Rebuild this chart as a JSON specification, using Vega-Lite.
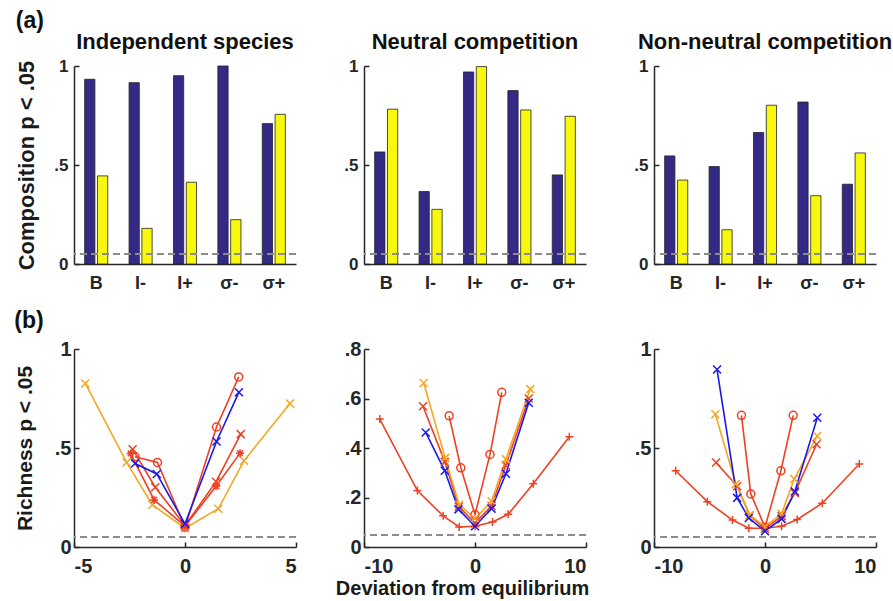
{
  "$schema": "https://vega.github.io/schema/vega-lite/v6.json",
  "autosize": {"type": "pad"},
  "padding": {"left": 14, "top": 10, "right": 2, "bottom": 2},
  "background": "white",
  "config": {
    "font": "Liberation Sans",
    "view": {"stroke": null},
    "axis": {"grid": false, "domainColor": "#262626", "domainWidth": 1.5, "tickColor": "#262626", "tickWidth": 1.5, "labelColor": "#262626", "labelFont": "Liberation Sans", "labelFontWeight": "bold", "titleFontWeight": "bold", "titleColor": "#1a1a1a", "titleFont": "Liberation Sans"},
    "title": {"font": "Liberation Sans", "fontWeight": "bold", "color": "#111111"}
  },
  "datasets": {
    "bars": [
      {"p": "a1", "c": "B", "k": "n", "v": 0.933}, {"p": "a1", "c": "B", "k": "y", "v": 0.445},
      {"p": "a1", "c": "I-", "k": "n", "v": 0.916}, {"p": "a1", "c": "I-", "k": "y", "v": 0.18},
      {"p": "a1", "c": "I+", "k": "n", "v": 0.951}, {"p": "a1", "c": "I+", "k": "y", "v": 0.413},
      {"p": "a1", "c": "σ-", "k": "n", "v": 1.0}, {"p": "a1", "c": "σ-", "k": "y", "v": 0.224},
      {"p": "a1", "c": "σ+", "k": "n", "v": 0.709}, {"p": "a1", "c": "σ+", "k": "y", "v": 0.756},
      {"p": "a2", "c": "B", "k": "n", "v": 0.566}, {"p": "a2", "c": "B", "k": "y", "v": 0.782},
      {"p": "a2", "c": "I-", "k": "n", "v": 0.366}, {"p": "a2", "c": "I-", "k": "y", "v": 0.276},
      {"p": "a2", "c": "I+", "k": "n", "v": 0.97}, {"p": "a2", "c": "I+", "k": "y", "v": 0.997},
      {"p": "a2", "c": "σ-", "k": "n", "v": 0.876}, {"p": "a2", "c": "σ-", "k": "y", "v": 0.778},
      {"p": "a2", "c": "σ+", "k": "n", "v": 0.45}, {"p": "a2", "c": "σ+", "k": "y", "v": 0.746},
      {"p": "a3", "c": "B", "k": "n", "v": 0.546}, {"p": "a3", "c": "B", "k": "y", "v": 0.424},
      {"p": "a3", "c": "I-", "k": "n", "v": 0.492}, {"p": "a3", "c": "I-", "k": "y", "v": 0.173},
      {"p": "a3", "c": "I+", "k": "n", "v": 0.664}, {"p": "a3", "c": "I+", "k": "y", "v": 0.802},
      {"p": "a3", "c": "σ-", "k": "n", "v": 0.818}, {"p": "a3", "c": "σ-", "k": "y", "v": 0.345},
      {"p": "a3", "c": "σ+", "k": "n", "v": 0.403}, {"p": "a3", "c": "σ+", "k": "y", "v": 0.561}
    ],
    "lines": [
      {"p": "b1", "s": "orange", "x": -4.49, "y": 0.826}, {"p": "b1", "s": "orange", "x": -2.63, "y": 0.427}, {"p": "b1", "s": "orange", "x": -1.47, "y": 0.213}, {"p": "b1", "s": "orange", "x": 0, "y": 0.095}, {"p": "b1", "s": "orange", "x": 1.5, "y": 0.193}, {"p": "b1", "s": "orange", "x": 2.66, "y": 0.436}, {"p": "b1", "s": "orange", "x": 4.73, "y": 0.725},
      {"p": "b1", "s": "red1", "x": -2.45, "y": 0.472}, {"p": "b1", "s": "red1", "x": -1.39, "y": 0.238}, {"p": "b1", "s": "red1", "x": 0, "y": 0.105}, {"p": "b1", "s": "red1", "x": 1.4, "y": 0.307}, {"p": "b1", "s": "red1", "x": 2.48, "y": 0.474},
      {"p": "b1", "s": "red2", "x": -2.36, "y": 0.494}, {"p": "b1", "s": "red2", "x": -1.34, "y": 0.302}, {"p": "b1", "s": "red2", "x": 0, "y": 0.108}, {"p": "b1", "s": "red2", "x": 1.4, "y": 0.33}, {"p": "b1", "s": "red2", "x": 2.51, "y": 0.57},
      {"p": "b1", "s": "redo", "x": -2.25, "y": 0.456}, {"p": "b1", "s": "redo", "x": -1.24, "y": 0.427}, {"p": "b1", "s": "redo", "x": 0, "y": 0.1}, {"p": "b1", "s": "redo", "x": 1.42, "y": 0.606}, {"p": "b1", "s": "redo", "x": 2.42, "y": 0.859},
      {"p": "b1", "s": "blue", "x": -2.25, "y": 0.422}, {"p": "b1", "s": "blue", "x": -1.27, "y": 0.369}, {"p": "b1", "s": "blue", "x": 0, "y": 0.117}, {"p": "b1", "s": "blue", "x": 1.42, "y": 0.533}, {"p": "b1", "s": "blue", "x": 2.43, "y": 0.782},

      {"p": "b2", "s": "red1", "x": -8.58, "y": 0.517}, {"p": "b2", "s": "red1", "x": -5.19, "y": 0.228}, {"p": "b2", "s": "red1", "x": -2.87, "y": 0.126}, {"p": "b2", "s": "red1", "x": -1.43, "y": 0.081}, {"p": "b2", "s": "red1", "x": 0, "y": 0.084}, {"p": "b2", "s": "red1", "x": 1.58, "y": 0.101}, {"p": "b2", "s": "red1", "x": 2.99, "y": 0.132}, {"p": "b2", "s": "red1", "x": 5.25, "y": 0.256}, {"p": "b2", "s": "red1", "x": 8.5, "y": 0.445},
      {"p": "b2", "s": "red2", "x": -4.68, "y": 0.569}, {"p": "b2", "s": "red2", "x": -2.72, "y": 0.344}, {"p": "b2", "s": "red2", "x": -1.46, "y": 0.163}, {"p": "b2", "s": "red2", "x": 0, "y": 0.097}, {"p": "b2", "s": "red2", "x": 1.49, "y": 0.166}, {"p": "b2", "s": "red2", "x": 2.78, "y": 0.33}, {"p": "b2", "s": "red2", "x": 4.84, "y": 0.6},
      {"p": "b2", "s": "redo", "x": -2.33, "y": 0.53}, {"p": "b2", "s": "redo", "x": -1.28, "y": 0.32}, {"p": "b2", "s": "redo", "x": 0, "y": 0.131}, {"p": "b2", "s": "redo", "x": 1.35, "y": 0.374}, {"p": "b2", "s": "redo", "x": 2.41, "y": 0.625},
      {"p": "b2", "s": "orange", "x": -4.62, "y": 0.663}, {"p": "b2", "s": "orange", "x": -2.69, "y": 0.36}, {"p": "b2", "s": "orange", "x": -1.43, "y": 0.171}, {"p": "b2", "s": "orange", "x": 0, "y": 0.115}, {"p": "b2", "s": "orange", "x": 1.49, "y": 0.185}, {"p": "b2", "s": "orange", "x": 2.78, "y": 0.355}, {"p": "b2", "s": "orange", "x": 4.98, "y": 0.638},
      {"p": "b2", "s": "blue", "x": -4.44, "y": 0.463}, {"p": "b2", "s": "blue", "x": -2.72, "y": 0.308}, {"p": "b2", "s": "blue", "x": -1.49, "y": 0.152}, {"p": "b2", "s": "blue", "x": 0, "y": 0.084}, {"p": "b2", "s": "blue", "x": 1.49, "y": 0.155}, {"p": "b2", "s": "blue", "x": 2.78, "y": 0.296}, {"p": "b2", "s": "blue", "x": 4.84, "y": 0.583},

      {"p": "b3", "s": "red1", "x": -8.05, "y": 0.385}, {"p": "b3", "s": "red1", "x": -5.19, "y": 0.229}, {"p": "b3", "s": "red1", "x": -2.93, "y": 0.136}, {"p": "b3", "s": "red1", "x": -1.46, "y": 0.095}, {"p": "b3", "s": "red1", "x": 0, "y": 0.095}, {"p": "b3", "s": "red1", "x": 1.49, "y": 0.105}, {"p": "b3", "s": "red1", "x": 2.9, "y": 0.139}, {"p": "b3", "s": "red1", "x": 5.16, "y": 0.221}, {"p": "b3", "s": "red1", "x": 8.5, "y": 0.419},
      {"p": "b3", "s": "red2", "x": -4.41, "y": 0.427}, {"p": "b3", "s": "red2", "x": -2.51, "y": 0.307}, {"p": "b3", "s": "red2", "x": -1.37, "y": 0.159}, {"p": "b3", "s": "red2", "x": 0, "y": 0.092}, {"p": "b3", "s": "red2", "x": 1.49, "y": 0.156}, {"p": "b3", "s": "red2", "x": 2.69, "y": 0.273}, {"p": "b3", "s": "red2", "x": 4.65, "y": 0.519},
      {"p": "b3", "s": "redo", "x": -2.12, "y": 0.665}, {"p": "b3", "s": "redo", "x": -1.28, "y": 0.268}, {"p": "b3", "s": "redo", "x": 0, "y": 0.1}, {"p": "b3", "s": "redo", "x": 1.43, "y": 0.385}, {"p": "b3", "s": "redo", "x": 2.54, "y": 0.665},
      {"p": "b3", "s": "orange", "x": -4.47, "y": 0.67}, {"p": "b3", "s": "orange", "x": -2.63, "y": 0.318}, {"p": "b3", "s": "orange", "x": -1.37, "y": 0.162}, {"p": "b3", "s": "orange", "x": 0, "y": 0.102}, {"p": "b3", "s": "orange", "x": 1.49, "y": 0.168}, {"p": "b3", "s": "orange", "x": 2.63, "y": 0.343}, {"p": "b3", "s": "orange", "x": 4.71, "y": 0.561},
      {"p": "b3", "s": "blue", "x": -4.32, "y": 0.896}, {"p": "b3", "s": "blue", "x": -2.51, "y": 0.248}, {"p": "b3", "s": "blue", "x": -1.46, "y": 0.146}, {"p": "b3", "s": "blue", "x": 0, "y": 0.08}, {"p": "b3", "s": "blue", "x": 1.49, "y": 0.142}, {"p": "b3", "s": "blue", "x": 2.69, "y": 0.28}, {"p": "b3", "s": "blue", "x": 4.71, "y": 0.653}
    ]
  },
  "resolve": {"scale": {"color": "independent", "shape": "independent"}},
  "spacing": 18,
  "vconcat": [
    {
      "title": {"text": "(a)", "anchor": "start", "frame": "bounds", "fontSize": 23, "offset": -2},
      "bounds": "flush",
      "spacing": 68,
      "resolve": {"scale": {"color": "independent", "shape": "independent"}},
      "hconcat": [
        {
          "width": 222, "height": 198,
          "data": {"name": "bars"},
          "transform": [{"filter": "datum.p == 'a1'"}],
          "title": {"text": "Independent species", "fontSize": 22, "offset": 3},
          "layer": [
            {"mark": {"type": "bar", "stroke": "#222222", "strokeWidth": 0.8},
             "encoding": {
               "x": {"field": "c", "type": "nominal", "sort": ["B", "I-", "I+", "σ-", "σ+"], "scale": {"paddingInner": 0.48, "paddingOuter": 0.24}, "axis": {"title": null, "labelAngle": 0, "labelFontSize": 18, "labelPadding": 10, "ticks": false}},
               "xOffset": {"field": "k", "type": "nominal", "scale": {"paddingInner": 0.2}},
               "y": {"field": "v", "type": "quantitative", "scale": {"domain": [0, 1]}, "axis": {"title": "Composition p < .05", "titleFontSize": 22, "titlePadding": 15, "values": [0, 0.5, 1], "labelExpr": "replace(format(datum.value, '~g'), '0.', '.')", "labelFontSize": 17, "tickSize": -5, "labelPadding": 11}},
               "color": {"field": "k", "type": "nominal", "scale": {"domain": ["n", "y"], "range": ["#342A85", "#F8F80F"]}, "legend": null}
             }},
            {"mark": {"type": "rule", "strokeDash": [7, 4], "color": "#8c8c8c", "strokeWidth": 1.3}, "encoding": {"y": {"datum": 0.05}}}
          ]
        },
        {
          "width": 222, "height": 198,
          "data": {"name": "bars"},
          "transform": [{"filter": "datum.p == 'a2'"}],
          "title": {"text": "Neutral competition", "fontSize": 22, "offset": 3},
          "layer": [
            {"mark": {"type": "bar", "stroke": "#222222", "strokeWidth": 0.8},
             "encoding": {
               "x": {"field": "c", "type": "nominal", "sort": ["B", "I-", "I+", "σ-", "σ+"], "scale": {"paddingInner": 0.48, "paddingOuter": 0.24}, "axis": {"title": null, "labelAngle": 0, "labelFontSize": 18, "labelPadding": 10, "ticks": false}},
               "xOffset": {"field": "k", "type": "nominal", "scale": {"paddingInner": 0.2}},
               "y": {"field": "v", "type": "quantitative", "scale": {"domain": [0, 1]}, "axis": {"title": null, "values": [0, 0.5, 1], "labelExpr": "replace(format(datum.value, '~g'), '0.', '.')", "labelFontSize": 17, "tickSize": -5, "labelPadding": 11}},
               "color": {"field": "k", "type": "nominal", "scale": {"domain": ["n", "y"], "range": ["#342A85", "#F8F80F"]}, "legend": null}
             }},
            {"mark": {"type": "rule", "strokeDash": [7, 4], "color": "#8c8c8c", "strokeWidth": 1.3}, "encoding": {"y": {"datum": 0.05}}}
          ]
        },
        {
          "width": 222, "height": 198,
          "data": {"name": "bars"},
          "transform": [{"filter": "datum.p == 'a3'"}],
          "title": {"text": "Non-neutral competition", "fontSize": 22, "offset": 3},
          "layer": [
            {"mark": {"type": "bar", "stroke": "#222222", "strokeWidth": 0.8},
             "encoding": {
               "x": {"field": "c", "type": "nominal", "sort": ["B", "I-", "I+", "σ-", "σ+"], "scale": {"paddingInner": 0.48, "paddingOuter": 0.24}, "axis": {"title": null, "labelAngle": 0, "labelFontSize": 18, "labelPadding": 10, "ticks": false}},
               "xOffset": {"field": "k", "type": "nominal", "scale": {"paddingInner": 0.2}},
               "y": {"field": "v", "type": "quantitative", "scale": {"domain": [0, 1]}, "axis": {"title": null, "values": [0, 0.5, 1], "labelExpr": "replace(format(datum.value, '~g'), '0.', '.')", "labelFontSize": 17, "tickSize": -5, "labelPadding": 11}},
               "color": {"field": "k", "type": "nominal", "scale": {"domain": ["n", "y"], "range": ["#342A85", "#F8F80F"]}, "legend": null}
             }},
            {"mark": {"type": "rule", "strokeDash": [7, 4], "color": "#8c8c8c", "strokeWidth": 1.3}, "encoding": {"y": {"datum": 0.05}}}
          ]
        }
      ]
    },
    {
      "title": {"text": "(b)", "anchor": "start", "frame": "bounds", "fontSize": 23, "offset": 6},
      "bounds": "flush",
      "spacing": 68,
      "resolve": {"scale": {"color": "independent", "shape": "independent"}},
      "hconcat": [
        {
          "width": 222, "height": 198,
          "data": {"name": "lines"},
          "transform": [{"filter": "datum.p == 'b1'"}],
          "layer": [
            {"mark": {"type": "rule", "strokeDash": [7, 4], "color": "#8c8c8c", "strokeWidth": 1.3}, "encoding": {"y": {"datum": 0.05}}},
            {"mark": {"type": "line", "strokeWidth": 1.6},
             "encoding": {
               "x": {"field": "x", "type": "quantitative", "scale": {"domain": [-5, 5], "nice": false}, "axis": {"title": null, "values": [-5, 0, 5], "labelExpr": "datum.value < 0 ? '-' + format(-datum.value, '~g') : format(datum.value, '~g')", "labelFontSize": 20, "tickSize": -5, "labelPadding": 14}},
               "y": {"field": "y", "type": "quantitative", "scale": {"domain": [0, 1], "nice": false}, "axis": {"title": "Richness p < .05", "titleFontSize": 21, "titlePadding": 19, "values": [0, 0.5, 1], "labelExpr": "replace(format(datum.value, '~g'), '0.', '.')", "labelFontSize": 20, "tickSize": -5, "labelPadding": 8}},
               "color": {"field": "s", "type": "nominal", "scale": {"domain": ["orange", "blue", "red1", "red2", "redo"], "range": ["#F5A623", "#1A1AE6", "#EE4022", "#EE4022", "#EE4022"]}, "legend": null},
               "detail": {"field": "s"}
             }},
            {"mark": {"type": "point", "filled": false, "strokeWidth": 1.5, "size": 64, "opacity": 1},
             "encoding": {
               "x": {"field": "x", "type": "quantitative"},
               "y": {"field": "y", "type": "quantitative"},
               "color": {"field": "s", "type": "nominal", "legend": null},
               "shape": {"field": "s", "type": "nominal", "scale": {"domain": ["orange", "blue", "red1", "red2", "redo"], "range": ["M-1,-1L1,1M-1,1L1,-1", "M-1,-1L1,1M-1,1L1,-1", "M-1,0L1,0M0,-1L0,1M-0.7,-0.7L0.7,0.7M-0.7,0.7L0.7,-0.7", "M-1,-1L1,1M-1,1L1,-1", "circle"]}, "legend": null}
             }}
          ]
        },
        {
          "width": 222, "height": 198,
          "data": {"name": "lines"},
          "transform": [{"filter": "datum.p == 'b2'"}],
          "layer": [
            {"mark": {"type": "rule", "strokeDash": [7, 4], "color": "#8c8c8c", "strokeWidth": 1.3}, "encoding": {"y": {"datum": 0.05}}},
            {"mark": {"type": "line", "strokeWidth": 1.6},
             "encoding": {
               "x": {"field": "x", "type": "quantitative", "scale": {"domain": [-10, 10], "nice": false}, "axis": {"title": "Deviation from equilibrium", "titleFontSize": 20, "titlePadding": 2, "titleX": 98, "values": [-10, 0, 10], "labelExpr": "datum.value < 0 ? '-' + format(-datum.value, '~g') : format(datum.value, '~g')", "labelFontSize": 20, "tickSize": -5, "labelPadding": 14}},
               "y": {"field": "y", "type": "quantitative", "scale": {"domain": [0, 0.8], "nice": false}, "axis": {"title": null, "values": [0, 0.2, 0.4, 0.6, 0.8], "labelExpr": "replace(format(datum.value, '~g'), '0.', '.')", "labelFontSize": 20, "tickSize": -5, "labelPadding": 8}},
               "color": {"field": "s", "type": "nominal", "scale": {"domain": ["orange", "blue", "red1", "red2", "redo"], "range": ["#F5A623", "#1A1AE6", "#EE4022", "#EE4022", "#EE4022"]}, "legend": null},
               "detail": {"field": "s"}
             }},
            {"mark": {"type": "point", "filled": false, "strokeWidth": 1.5, "size": 64, "opacity": 1},
             "encoding": {
               "x": {"field": "x", "type": "quantitative"},
               "y": {"field": "y", "type": "quantitative"},
               "color": {"field": "s", "type": "nominal", "legend": null},
               "shape": {"field": "s", "type": "nominal", "scale": {"domain": ["orange", "blue", "red1", "red2", "redo"], "range": ["M-1,-1L1,1M-1,1L1,-1", "M-1,-1L1,1M-1,1L1,-1", "M-1,0L1,0M0,-1L0,1", "M-1,-1L1,1M-1,1L1,-1", "circle"]}, "legend": null}
             }}
          ]
        },
        {
          "width": 222, "height": 198,
          "data": {"name": "lines"},
          "transform": [{"filter": "datum.p == 'b3'"}],
          "layer": [
            {"mark": {"type": "rule", "strokeDash": [7, 4], "color": "#8c8c8c", "strokeWidth": 1.3}, "encoding": {"y": {"datum": 0.05}}},
            {"mark": {"type": "line", "strokeWidth": 1.6},
             "encoding": {
               "x": {"field": "x", "type": "quantitative", "scale": {"domain": [-10, 10], "nice": false}, "axis": {"title": null, "values": [-10, 0, 10], "labelExpr": "datum.value < 0 ? '-' + format(-datum.value, '~g') : format(datum.value, '~g')", "labelFontSize": 20, "tickSize": -5, "labelPadding": 14}},
               "y": {"field": "y", "type": "quantitative", "scale": {"domain": [0, 1], "nice": false}, "axis": {"title": null, "values": [0, 0.5, 1], "labelExpr": "replace(format(datum.value, '~g'), '0.', '.')", "labelFontSize": 20, "tickSize": -5, "labelPadding": 8}},
               "color": {"field": "s", "type": "nominal", "scale": {"domain": ["orange", "blue", "red1", "red2", "redo"], "range": ["#F5A623", "#1A1AE6", "#EE4022", "#EE4022", "#EE4022"]}, "legend": null},
               "detail": {"field": "s"}
             }},
            {"mark": {"type": "point", "filled": false, "strokeWidth": 1.5, "size": 64, "opacity": 1},
             "encoding": {
               "x": {"field": "x", "type": "quantitative"},
               "y": {"field": "y", "type": "quantitative"},
               "color": {"field": "s", "type": "nominal", "legend": null},
               "shape": {"field": "s", "type": "nominal", "scale": {"domain": ["orange", "blue", "red1", "red2", "redo"], "range": ["M-1,-1L1,1M-1,1L1,-1", "M-1,-1L1,1M-1,1L1,-1", "M-1,0L1,0M0,-1L0,1", "M-1,-1L1,1M-1,1L1,-1", "circle"]}, "legend": null}
             }}
          ]
        }
      ]
    }
  ]
}
